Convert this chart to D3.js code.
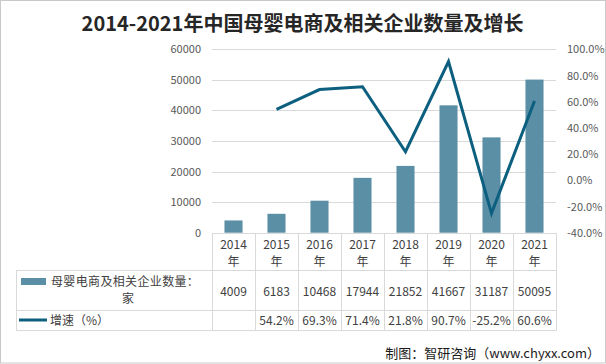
<!DOCTYPE html>
<html><head><meta charset="utf-8">
<script src="https://cdn.jsdelivr.net/npm/d3@7"></script>
<style>
html,body{margin:0;padding:0;background:#fff;}
svg{display:block;font-family:"Noto Sans CJK SC","Noto Sans",sans-serif;}
</style></head>
<body>
<svg id="c" width="606" height="364"></svg>
<script>
const title = "2014-2021年中国母婴电商及相关企业数量及增长";
const years = ["2014","2015","2016","2017","2018","2019","2020","2021"];
const yearSuffix = "年";
const counts = [4009,6183,10468,17944,21852,41667,31187,50095];
const growth = [null,54.2,69.3,71.4,21.8,90.7,-25.2,60.6];
const leftTicks = [0,10000,20000,30000,40000,50000,60000];
const rightTicks = [-40,-20,0,20,40,60,80,100];
const seriesBarName1 = "母婴电商及相关企业数量：";
const seriesBarName2 = "家";
const seriesLineName = "增速（%）";
const source = "制图：智研咨询（www.chyxx.com）";

const svg = d3.select("#c");
const barColor = "#5b8fa5", lineColor = "#0c5f7f", gridColor = "#d9d9d9", textColor = "#404040";
const X0 = 212, X1 = 556, Y0 = 232.7, Y1 = 49.3;

svg.append("rect").attr("x",0.5).attr("y",0.5).attr("width",605).attr("height",362.5)
  .attr("fill","#fff").attr("stroke","#c9c9c9");

svg.append("text").attr("x",302.5).attr("y",31).attr("text-anchor","middle")
  .attr("font-size",20).attr("font-weight","bold").attr("fill","#262626").text(title);

const x = d3.scaleBand().domain(years).range([X0,X1]).paddingInner(0.58).paddingOuter(0.29);
const step = x.step();
const yL = d3.scaleLinear().domain([0,60000]).range([Y0,Y1]);
const yR = d3.scaleLinear().domain([-40,100]).range([Y0,Y1]);

// gridlines
svg.append("g").selectAll("line").data(leftTicks.filter(d=>d>0)).join("line")
  .attr("x1",X0).attr("x2",X1).attr("y1",d=>Math.round(yL(d))+0.5).attr("y2",d=>Math.round(yL(d))+0.5)
  .attr("stroke",gridColor).attr("stroke-width",1);

// left axis
const gl = svg.append("g").attr("transform",`translate(${X0},0)`)
  .call(d3.axisLeft(yL).tickValues(leftTicks).tickSize(0).tickPadding(11).tickFormat(d3.format("d")));
gl.select(".domain").remove();
gl.selectAll("text").attr("font-size",11).attr("fill","#595959").attr("font-family","'Noto Sans CJK SC',sans-serif");

// right axis
const gr = svg.append("g").attr("transform",`translate(${X1},0)`)
  .call(d3.axisRight(yR).tickValues(rightTicks).tickSize(0).tickPadding(11).tickFormat(d=>d.toFixed(1)+"%"));
gr.select(".domain").remove();
gr.selectAll("text").attr("font-size",11).attr("fill","#595959").attr("font-family","'Noto Sans CJK SC',sans-serif");

// bars
svg.append("g").selectAll("rect").data(years).join("rect")
  .attr("x",(d)=>x(d)).attr("width",x.bandwidth())
  .attr("y",(d,i)=>yL(counts[i])).attr("height",(d,i)=>Y0-yL(counts[i]))
  .attr("fill",barColor);

// line
const pts = years.map((d,i)=>({y:d,v:growth[i]})).filter(p=>p.v!==null);
svg.append("path").datum(pts)
  .attr("d",d3.line().x(p=>x(p.y)+x.bandwidth()/2).y(p=>yR(p.v)))
  .attr("fill","none").attr("stroke",lineColor).attr("stroke-width",3).attr("stroke-linejoin","miter");

// table
const T = svg.append("g");
const rowA = 270.5, rowB = 310.5, rowC = 330.5;
T.append("line").attr("x1",X0).attr("x2",X1).attr("y1",233.5).attr("y2",233.5).attr("stroke",gridColor);
d3.range(years.length+1).forEach(i=>{
  const xx = Math.round(X0+i*step)+0.5;
  T.append("line").attr("x1",xx).attr("x2",xx).attr("y1",233).attr("y2",rowC).attr("stroke",gridColor);
});
[rowA,rowB,rowC].forEach(yy=>{
  T.append("line").attr("x1",16).attr("x2",X1+0.5).attr("y1",yy).attr("y2",yy).attr("stroke",gridColor);
});
T.append("line").attr("x1",16.5).attr("x2",16.5).attr("y1",rowA).attr("y2",rowC).attr("stroke",gridColor);

const cx = d=>x(d)+x.bandwidth()/2;
T.append("g").selectAll("text").data(years).join("text")
  .attr("x",cx).attr("y",248.5).attr("text-anchor","middle").attr("font-size",12).attr("fill",textColor).text(d=>d);
T.append("g").selectAll("text").data(years).join("text")
  .attr("x",cx).attr("y",265.5).attr("text-anchor","middle").attr("font-size",12).attr("fill",textColor).text(yearSuffix);
T.append("g").selectAll("text").data(years).join("text")
  .attr("x",cx).attr("y",295.5).attr("text-anchor","middle").attr("font-size",12).attr("fill",textColor)
  .text((d,i)=>counts[i]);
T.append("g").selectAll("text").data(years).join("text")
  .attr("x",cx).attr("y",324.5).attr("text-anchor","middle").attr("font-size",12).attr("fill",textColor)
  .text((d,i)=>growth[i]===null?"":growth[i].toFixed(1)+"%");

// legend cells
T.append("rect").attr("x",21).attr("y",278).attr("width",25).attr("height",7).attr("fill",barColor);
T.append("text").attr("x",51).attr("y",285.5).attr("font-size",12).attr("letter-spacing","0.35px").attr("fill",textColor).text(seriesBarName1);
T.append("text").attr("x",128).attr("y",302.5).attr("text-anchor","middle").attr("font-size",12).attr("fill",textColor).text(seriesBarName2);
T.append("line").attr("x1",19).attr("x2",47).attr("y1",320).attr("y2",320).attr("stroke",lineColor).attr("stroke-width",3);
T.append("text").attr("x",50).attr("y",324.5).attr("font-size",12).attr("fill",textColor).text(seriesLineName);

svg.append("text").attr("x",600).attr("y",357.5).attr("text-anchor","end").attr("font-size",13)
  .attr("fill","#1a1a1a").text(source);
</script>
</body></html>
